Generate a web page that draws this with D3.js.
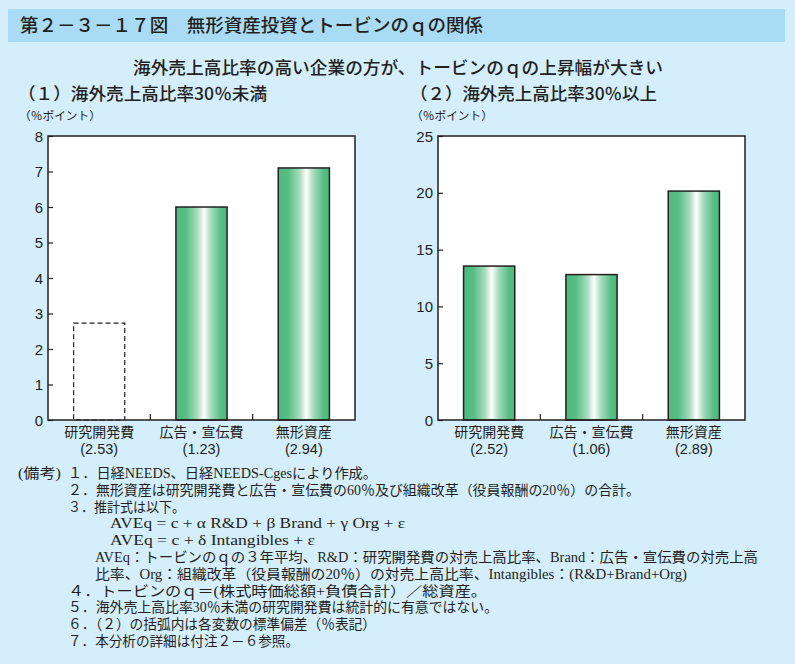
<!DOCTYPE html>
<html><head><meta charset="utf-8">
<script src="https://cdn.jsdelivr.net/npm/d3@7"></script>
<style>
html,body{margin:0;padding:0;background:#d4eefb;}
svg{display:block;}
text{fill:#231f20;}
</style></head>
<body><svg id="c" width="795" height="664"></svg>
<script>
// ---- data ----
const categories = ["研究開発費", "広告・宣伝費", "無形資産"];
const leftValues = [2.73, 6.0, 7.1];
const leftStd = ["(2.53)", "(1.23)", "(2.94)"];
const leftSignificant = [false, true, true];
const rightValues = [13.55, 12.8, 20.15];
const rightStd = ["(2.52)", "(1.06)", "(2.89)"];
const rightSignificant = [true, true, true];
const leftTicks = [0, 1, 2, 3, 4, 5, 6, 7, 8];
const rightTicks = [0, 5, 10, 15, 20, 25];
const title = "第２－３－１７図　無形資産投資とトービンのｑの関係";
const subtitle = "海外売上高比率の高い企業の方が、トービンのｑの上昇幅が大きい";
const panelTitles = ["（１）海外売上高比率30％未満", "（２）海外売上高比率30％以上"];
const unitLabel = "（％ポイント）";
const notesHead = "(備考)";
const notes = [
  "１．日経NEEDS、日経NEEDS-Cgesにより作成。",
  "２．無形資産は研究開発費と広告・宣伝費の60％及び組織改革（役員報酬の20％）の合計。",
  "３．推計式は以下。",
  "AVEq  =  c +  α R&D +  β Brand +  γ Org +  ε",
  "AVEq  =  c +  δ Intangibles +  ε",
  "AVEq：トービンのｑの３年平均、R&D：研究開発費の対売上高比率、Brand：広告・宣伝費の対売上高",
  "比率、Org：組織改革（役員報酬の20％）の対売上高比率、Intangibles：(R&D+Brand+Org)",
  "４．トービンのｑ＝(株式時価総額+負債合計）／総資産。",
  "５．海外売上高比率30％未満の研究開発費は統計的に有意ではない。",
  "６．（２）の括弧内は各変数の標準偏差（％表記）",
  "７．本分析の詳細は付注２－６参照。"
];

// ---- drawing ----
const svg = d3.select("#c");
const sans = "'Noto Sans CJK JP', 'Noto Sans', sans-serif";
const latin = "'Liberation Sans', Arial, 'Noto Sans CJK JP', sans-serif";
const serif = "'Liberation Serif', 'Noto Sans CJK JP', serif";

// gradient
const defs = svg.append("defs");
const g = defs.append("linearGradient").attr("id", "barGrad").attr("x1", 0).attr("x2", 1).attr("y1", 0).attr("y2", 0);
[[0, "#4cba7d"], [0.2, "#57be86"], [0.42, "#a9dcbd"], [0.55, "#ffffff"], [0.68, "#a9dcbd"], [0.88, "#57be86"], [1, "#4cba7d"]]
  .forEach(([o, c]) => g.append("stop").attr("offset", o).attr("stop-color", c));

// header band
svg.append("rect").attr("x", 8).attr("y", 9).attr("width", 777).attr("height", 33).attr("fill", "#a9dbf5");
svg.append("text").attr("x", 20).attr("y", 32).attr("font-family", sans).attr("font-size", 18).attr("font-weight", 500)
  .attr("textLength", 463).attr("lengthAdjust", "spacingAndGlyphs").text(title);
svg.append("text").attr("x", 133).attr("y", 74).attr("font-family", sans).attr("font-size", 17.5).attr("font-weight", 500)
  .attr("textLength", 530).attr("lengthAdjust", "spacingAndGlyphs").text(subtitle);

function panel(px, ptitleX, ptitleW, ptitle, values, stds, sig, ticks, ymax) {
  const top = 136, bottom = 420, w = 307, h = bottom - top;
  svg.append("text").attr("x", ptitleX).attr("y", 100).attr("font-family", sans).attr("font-size", 17).attr("font-weight", 500)
    .attr("textLength", ptitleW).attr("lengthAdjust", "spacingAndGlyphs").text(ptitle);
  svg.append("text").attr("x", ptitleX + 1).attr("y", 120).attr("font-family", sans).attr("font-size", 11.5)
    .attr("textLength", 82).attr("lengthAdjust", "spacingAndGlyphs").text(unitLabel);

  const gp = svg.append("g").attr("transform", `translate(${px},${top})`);
  const x = d3.scaleBand().domain(categories).range([0, w]).paddingInner(0.5).paddingOuter(0.25);
  const y = d3.scaleLinear().domain([0, ymax]).range([h, 0]);

  gp.append("rect").attr("width", w).attr("height", h).attr("fill", "#fff");

  // bars
  categories.forEach((c, i) => {
    gp.append("rect").attr("x", x(c)).attr("y", y(values[i])).attr("width", x.bandwidth())
      .attr("height", y(0) - y(values[i]))
      .attr("fill", sig[i] ? "url(#barGrad)" : "#fff")
      .attr("stroke", "#231f20").attr("stroke-width", sig[i] ? 1.5 : 1.2)
      .attr("stroke-dasharray", sig[i] ? null : "5,3");
  });

  // y axis
  const ya = d3.axisLeft(y).tickValues(ticks).tickSize(-5).tickPadding(5).tickFormat(d3.format("d"));
  const yg = gp.append("g").call(ya);
  yg.select(".domain").remove();
  yg.selectAll("line").attr("stroke", "#231f20").attr("stroke-width", 1.2);
  yg.selectAll("text").attr("font-family", latin).attr("font-size", 15).attr("fill", "#231f20").attr("dy", "0.34em");

  // category separators (inside ticks)
  const step = x.step();
  categories.slice(1).forEach(c => {
    const xx = x(c) - step * x.paddingInner() / 2;
    gp.append("line").attr("x1", xx).attr("x2", xx).attr("y1", h).attr("y2", h - 6)
      .attr("stroke", "#231f20").attr("stroke-width", 1.2);
  });

  // frame
  gp.append("rect").attr("width", w).attr("height", h).attr("fill", "none").attr("stroke", "#231f20").attr("stroke-width", 1.5);

  // x labels
  categories.forEach((c, i) => {
    const cx = x(c) + x.bandwidth() / 2;
    gp.append("text").attr("x", cx).attr("y", h + 17).attr("text-anchor", "middle")
      .attr("font-family", sans).attr("font-size", 14).text(c);
    gp.append("text").attr("x", cx).attr("y", h + 33.5).attr("text-anchor", "middle")
      .attr("font-family", latin).attr("font-size", 14.5).text(stds[i]);
  });
}

panel(48, 18, 249, panelTitles[0], leftValues, leftStd, leftSignificant, leftTicks, 8);
panel(438, 410, 247, panelTitles[1], rightValues, rightStd, rightSignificant, rightTicks, 25);

// notes
const noteFont = 14;
const noteTop = 478, noteStep = 16.8;
svg.append("text").attr("x", 18).attr("y", noteTop).attr("font-family", serif).attr("font-size", noteFont)
  .attr("textLength", 43).attr("lengthAdjust", "spacingAndGlyphs").text(notesHead);
const noteX = [68, 68, 68, 110, 110, 95, 95, 68, 68, 68, 68];
const noteEnd = [377, 640, 185, 405, 315, 758, 687, 487, 498, 376, 299];
notes.forEach((t, i) => {
  svg.append("text").attr("x", noteX[i]).attr("y", noteTop + i * noteStep)
    .attr("font-family", serif).attr("font-size", noteFont)
    .attr("textLength", noteEnd[i] - noteX[i]).attr("lengthAdjust", "spacingAndGlyphs").text(t);
});
</script></body></html>
